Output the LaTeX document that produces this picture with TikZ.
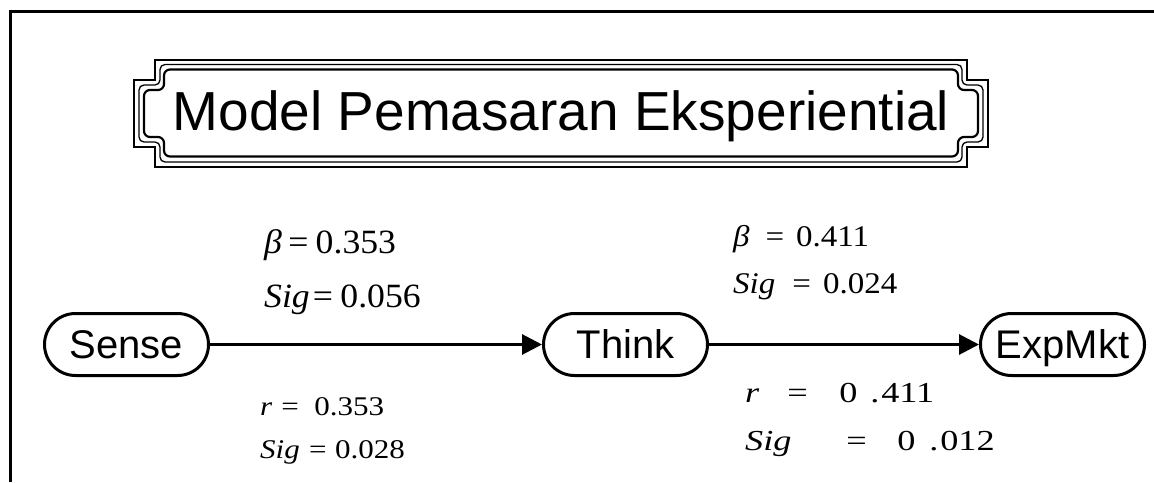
\documentclass[tikz,border=0pt]{standalone}
\usepackage{graphicx}
\usepackage{fontspec}
\setmainfont{Liberation Serif}
\newfontfamily\arialf{Liberation Sans}
\usetikzlibrary{arrows.meta}
\newcommand\fs[1]{\fontsize{#1}{#1}\selectfont}
\begin{document}
\begin{tikzpicture}[x=1pt,y=-1pt,
  framestyle/.style={line width=3pt},
  thinline/.style={line width=1.3pt},
  thickline/.style={line width=2.2pt},
  concept/.style={draw, line width=3pt, rounded corners=31pt, minimum width=164pt, minimum height=62pt,
    inner sep=0pt, text height=28pt, text depth=0pt, font=\arialf\fs{40}},
  arr/.style={line width=3pt, -{Triangle[length=20pt,width=20pt]}},
  lbl/.style={anchor=base west, inner sep=0pt}]
\useasboundingbox (0,0) rectangle (1154,482);
% outer frame
\draw[framestyle] (10.5,482) -- (10.5,11) -- (1154,11);
% title plaque
\draw[thinline] (155,60) -- (967,60) -- (967,80) -- (988,80) -- (988,147) -- (967,147) -- (967,167)
  -- (155,167) -- (155,147) -- (134,147) -- (134,80) -- (155,80) -- cycle;
\draw[thinline, rounded corners=5pt] (160,64.5) -- (962,64.5) -- (962,85) -- (983,85) -- (983,142) -- (962,142) -- (962,162)
  -- (160,162) -- (160,142) -- (139,142) -- (139,85) -- (160,85) -- cycle;
\draw[thickline, rounded corners=6pt] (164,69.5) -- (958,69.5) -- (958,90) -- (978,90) -- (978,137) -- (958,137) -- (958,156.5)
  -- (164,156.5) -- (164,137) -- (144,137) -- (144,90) -- (164,90) -- cycle;
\node[anchor=base, inner sep=0pt, font=\arialf\fs{55}] (title) at (561,130) {Model Pemasaran Eksperiential};
% concept nodes
\node[concept] (sense) at (126.5,344.5) {Sense};
\node[concept] (think) at (625.5,344.5) {Think};
\node[concept] (expmkt) at (1062.5,344.5) {ExpMkt};
\draw[arr] (sense) -- (think);
\draw[arr] (think) -- (expmkt);
% labels
\node[lbl] (tl1) at (264,253) {\scalebox{1.05}[1]{\fs{34}\textit{β}\hspace{6pt}=\hspace{7pt}0.353}};
\node[lbl] (tl2) at (264,307) {\scalebox{1.05}[1]{\fs{34}\textit{Sig}\hspace{3pt}=\hspace{7pt}0.056}};
\node[lbl] (tr1) at (733,246) {\scalebox{1.1}[1]{\fs{30}\textit{β}\hspace{14.5pt}=\hspace{10.9pt}0.411}};
\node[lbl] (tr2) at (733,293) {\scalebox{1.1}[1]{\fs{30}\textit{Sig}\hspace{15.5pt}=\hspace{10.9pt}0.024}};
\node[lbl] (bl1) at (260,415) {\scalebox{1.15}[1]{\fs{27}\textit{r}\hspace{7.8pt}=\hspace{13.5pt}0.353}};
\node[lbl] (bl2) at (260,458) {\scalebox{1.15}[1]{\fs{27}\textit{Sig}\hspace{8pt}=\hspace{7.4pt}0.028}};
\node[lbl] (br1) at (745,402) {\scalebox{1.25}[1]{\fs{29}\textit{r}\hspace{22.3pt}=\hspace{25.3pt}0\hspace{10.3pt}.\hspace{1.5pt}411}};
\node[lbl] (br2) at (745,450) {\scalebox{1.25}[1]{\fs{29}\textit{Sig}\hspace{43.8pt}=\hspace{24.5pt}0\hspace{11.1pt}.\hspace{1.5pt}012}};
\end{tikzpicture}
\end{document}
